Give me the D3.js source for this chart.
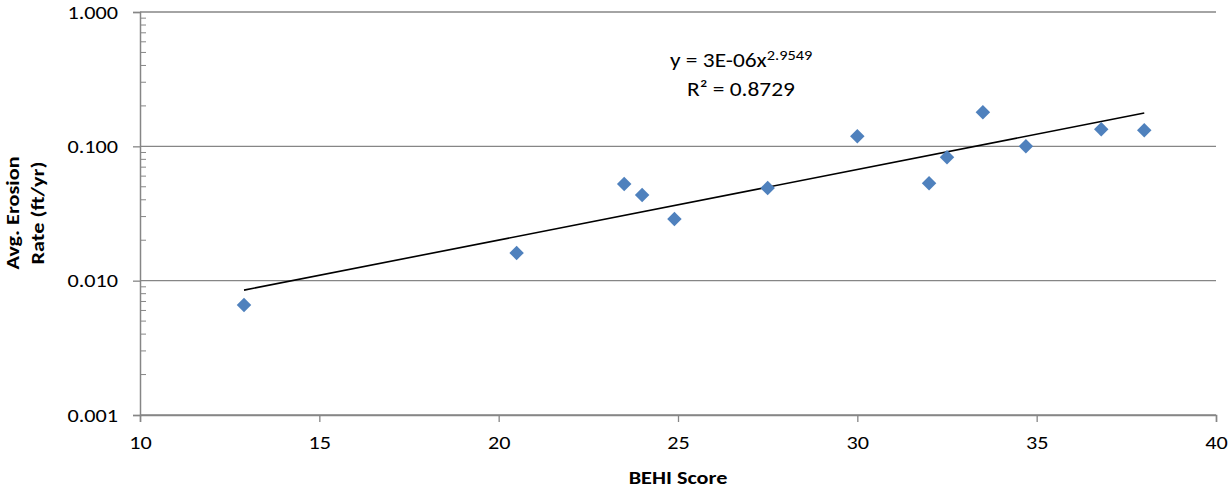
<!DOCTYPE html>
<html>
<head>
  <meta charset="UTF-8">
  <style>
    body {
      margin: 0;
      background-color: white;
      font-family: Carlito, Calibri, Lato, sans-serif;
    }
    svg { display: block; }
    text { font-family: Carlito, Calibri, Lato, sans-serif; fill: #000; }
  </style>
</head>
<body>

<svg width="1232" height="490"></svg>

<script src="https://d3js.org/d3.v7.min.js"></script>

<script>
// BEHI score vs average erosion rate
let behiScores = [12.9, 20.5, 23.5, 24.0, 24.9, 27.5, 30.0, 32.0, 32.5, 33.5, 34.7, 36.8, 38.0];
let erosionRates = [0.0066, 0.0161, 0.0524, 0.0434, 0.0288, 0.0489, 0.119, 0.0532, 0.083, 0.179, 0.100, 0.134, 0.132];
// trendline as drawn (end points)
let trendX = [12.9, 38.0];
let trendY = [0.0085, 0.177];
let xTicks = [10, 15, 20, 25, 30, 35, 40];
let yTicks = [0.001, 0.01, 0.1, 1];
let equationText = "y = 3E-06x";
let exponentText = "2.9549";
let r2Text = "R² = 0.8729";

let width = 1232, height = 490;
let margin = {left: 140, right: 16, top: 12, bottom: 75};
let stretch = 1.17; // the original text is a bit wider than Calibri

let svg = d3.select("svg");

let x = d3.scaleLinear()
    .domain([10, 40])
    .range([margin.left, width - margin.right]);

let y = d3.scaleLog()
    .domain([0.001, 1])
    .range([height - margin.bottom, margin.top]);

// gridlines at each decade
svg.append("g")
    .selectAll("line")
    .data(yTicks)
    .enter()
    .append("line")
    .attr("x1", margin.left)
    .attr("x2", width - margin.right)
    .attr("y1", d => y(d))
    .attr("y2", d => y(d))
    .attr("stroke", "#868686")
    .attr("stroke-width", 1.3);

// minor log ticks, inside the y axis
let minor = [];
yTicks.slice(0, -1).forEach(d => {
  for (let k = 2; k <= 9; k++) minor.push(d * k);
});
svg.append("g")
    .selectAll("line")
    .data(minor)
    .enter()
    .append("line")
    .attr("x1", margin.left)
    .attr("x2", margin.left + 6)
    .attr("y1", d => y(d))
    .attr("y2", d => y(d))
    .attr("stroke", "#868686")
    .attr("stroke-width", 1);

let yAxis = svg.append("g")
    .attr("transform", "translate(" + margin.left + ",0)")
    .call(d3.axisLeft(y).tickValues(yTicks).tickFormat(d3.format(".3f")).tickSize(7));

let xAxis = svg.append("g")
    .attr("transform", "translate(0," + (height - margin.bottom) + ")")
    .call(d3.axisBottom(x).tickValues(xTicks).tickSize(7).tickPadding(14));

[xAxis, yAxis].forEach(a => {
  a.select(".domain").attr("stroke", "#868686").attr("stroke-width", 1.5);
  a.selectAll(".tick line").attr("stroke", "#868686").attr("stroke-width", 1.3);
  a.selectAll(".tick text")
      .style("font-family", "Carlito, Calibri, Lato, sans-serif")
      .style("font-size", "19px")
      .attr("transform", "scale(" + stretch + ",1)");
});
yAxis.selectAll(".tick text").attr("x", -22 / stretch);

// power trendline
svg.append("path")
    .datum(trendX)
    .attr("fill", "none")
    .attr("stroke", "black")
    .attr("stroke-width", 1.6)
    .attr("d", d3.line().x(d => x(d)).y((d, i) => y(trendY[i])));

// diamond markers
svg.append("g")
    .selectAll("path")
    .data(behiScores)
    .enter()
    .append("path")
    .attr("d", d3.symbol().type(d3.symbolSquare).size(105))
    .attr("transform", (d, i) => "translate(" + x(d) + "," + y(erosionRates[i]) + ") rotate(45)")
    .attr("fill", "#4f81bd");

// equation label
let eq = svg.append("text")
    .attr("transform", "translate(670,67) scale(" + stretch + ",1)")
    .style("font-size", "20px");
eq.append("tspan").text(equationText);
eq.append("tspan").attr("dy", -7).style("font-size", "14px").text(exponentText);

svg.append("text")
    .attr("transform", "translate(687,96) scale(" + stretch + ",1)")
    .style("font-size", "20px")
    .text(r2Text);

// axis titles
svg.append("text")
    .attr("transform", "translate(" + x(25) + ",484) scale(" + stretch + ",1)")
    .attr("text-anchor", "middle")
    .style("font-size", "19px")
    .style("font-weight", "bold")
    .text("BEHI Score");

let yt = svg.append("text")
    .attr("transform", "translate(19,213) rotate(-90) scale(" + stretch + ",1)")
    .attr("text-anchor", "middle")
    .style("font-size", "19px")
    .style("font-weight", "bold");
yt.append("tspan").attr("x", 0).attr("dy", 0).text("Avg. Erosion");
yt.append("tspan").attr("x", 0).attr("dy", 25).text("Rate (ft/yr)");
</script>

</body>
</html>
